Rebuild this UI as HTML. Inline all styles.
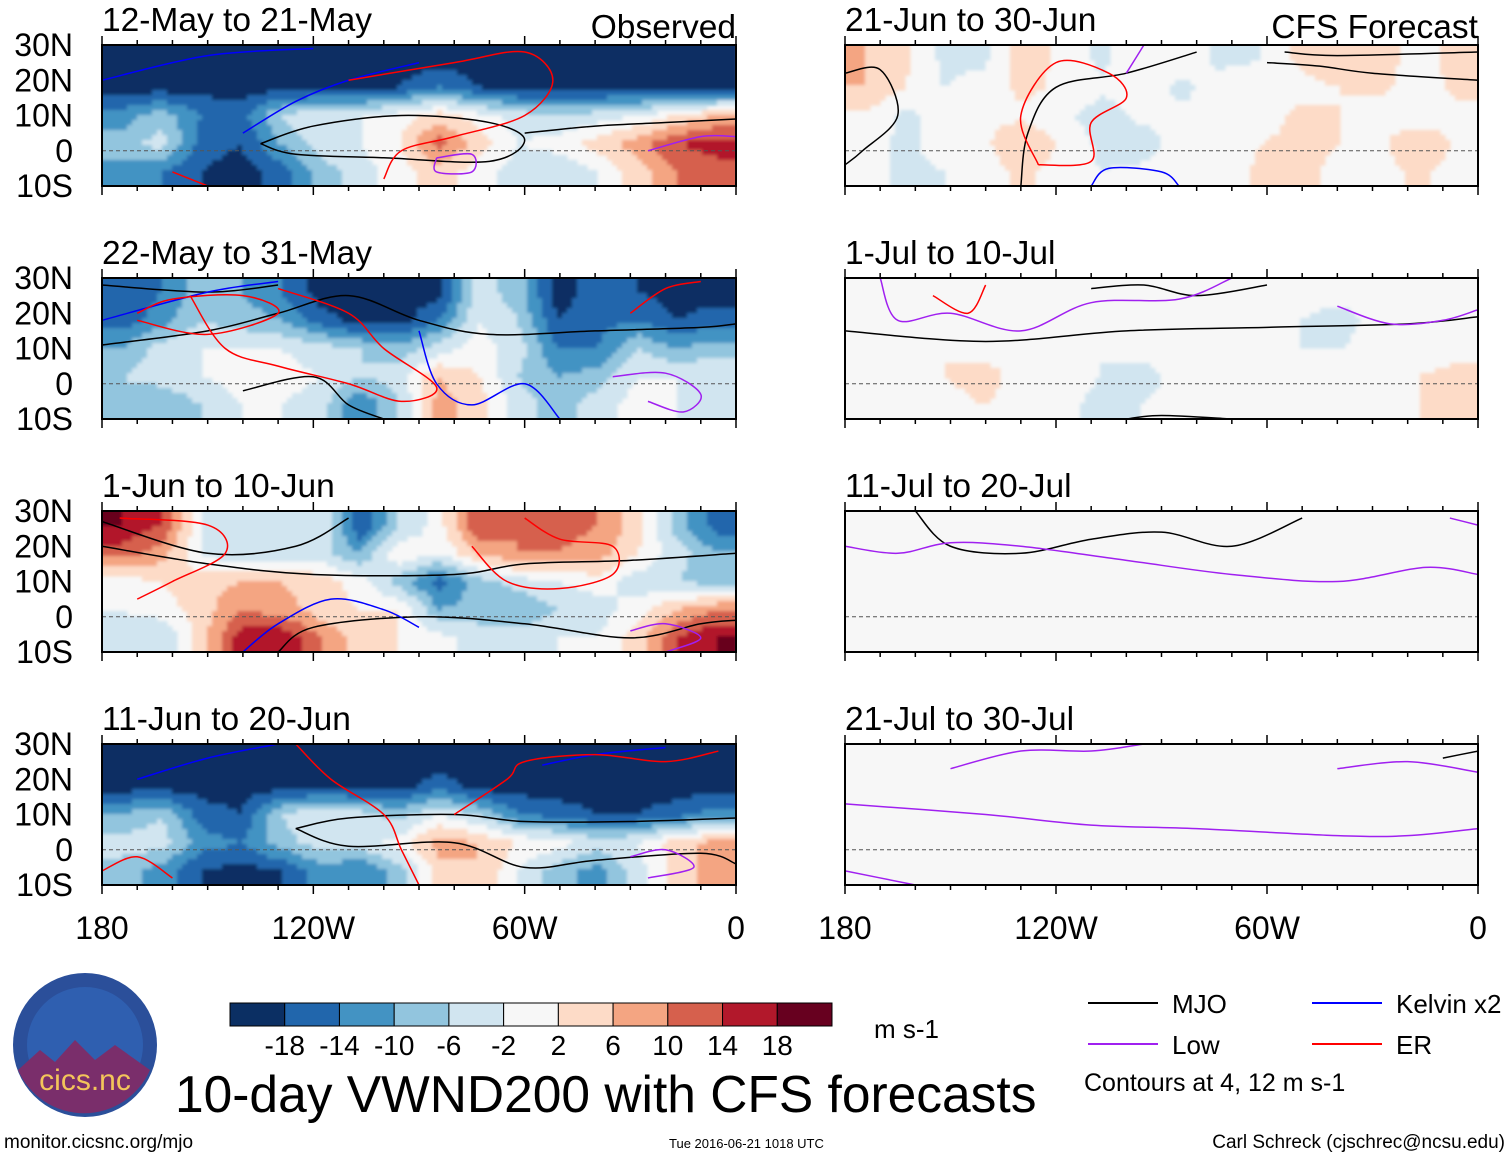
<!DOCTYPE html>
<html><head><meta charset="utf-8">
<style>
body{margin:0;background:#fff;width:1510px;height:1158px;overflow:hidden;font-family:"Liberation Sans",sans-serif;}
svg{position:absolute;left:0;top:0}
</style></head>
<body>
<svg id="chart" width="1510" height="1158" xmlns="http://www.w3.org/2000/svg">
<defs>
<filter id="blur" x="-5%" y="-10%" width="110%" height="120%"><feGaussianBlur stdDeviation="1.5"/></filter>
</defs>
<g id="panels"></g>
<g id="legend"></g>
<text x="175" y="1112" font-size="51.5">10-day VWND200 with CFS forecasts</text>
<text x="4" y="1148" font-size="19">monitor.cicsnc.org/mjo</text>
<text x="669" y="1148" font-size="13">Tue 2016-06-21 1018 UTC</text>
<text x="1505" y="1148" font-size="19" text-anchor="end">Carl Schreck (cjschrec@ncsu.edu)</text>
<g>
<circle cx="85" cy="1045" r="72" fill="#2b4f9a"/>
<circle cx="85" cy="1045" r="58" fill="#2f5fb0"/>
<path d="M18 1070 L40 1050 L55 1062 L75 1040 L95 1060 L115 1045 L150 1070 A72 72 0 0 1 18 1070Z" fill="#7a2e6b"/>
<text x="85" y="1090" font-size="30" fill="#f3c55a" text-anchor="middle">cics.nc</text>
</g>
<text x="874" y="1038" font-size="26">m s-1</text>
</svg>
<script>
// ---- data: v-wind anomalies (m/s), rows lat 26N,18N,10N,2N,6S ; 16 cols from 180 to 0
const obs1=[[-20,-20,-20,-20,-20,-20,-20,-20,-20,-20,-20,-20,-20,-20,-20,-20],[-20,-20,-20,-20,-20,-20,-20,-18,-14,-18,-20,-20,-20,-20,-20,-20],[-12,-8,-14,-16,-6,-2,-2,0,4,0,-4,-6,-4,-2,2,6],[-8,-4,-16,-18,-10,-4,-2,2,12,4,-2,0,4,8,14,16],[-12,-14,-18,-20,-16,-8,-4,0,4,0,-4,-6,-2,4,10,12]];
const obs2=[[-18,-14,-8,-10,-14,-20,-20,-20,-20,-4,-8,-20,-16,-18,-20,-20],[-16,-12,-6,-8,-10,-16,-20,-20,-14,-2,-6,-18,-16,-14,-18,-16],[-10,-4,-2,-2,-2,-4,-6,-8,-4,0,-4,-14,-14,-6,-10,-8],[-6,-4,-2,0,0,-2,-6,-4,6,2,-6,-10,-8,-2,-2,-2],[-8,-10,-6,-2,-2,-4,-14,-6,8,4,-4,-8,-4,0,-2,-4]];
const obs3=[[18,14,-2,-4,-6,-2,-18,-6,0,14,10,12,10,4,-8,-16],[12,8,-2,-6,-4,-4,-10,2,-2,6,10,10,8,2,-4,-10],[0,2,4,6,6,4,0,-8,-16,-8,-4,-2,0,-4,-6,-8],[-2,0,4,10,8,4,2,2,-10,-8,-10,-6,-4,0,6,10],[-4,-6,4,16,18,10,4,2,0,-4,-4,-2,-2,4,14,18]];
const obs4=[[-20,-20,-20,-20,-20,-20,-20,-20,-20,-20,-20,-20,-20,-20,-20,-20],[-20,-20,-20,-20,-20,-20,-20,-20,-16,-20,-20,-20,-20,-20,-20,-20],[-10,-6,-16,-18,-6,-2,-4,-8,-2,-6,-14,-16,-18,-18,-16,-12],[-4,-4,-12,-14,-8,-4,-4,0,8,6,2,0,-4,-2,4,8],[-8,-12,-18,-20,-18,-12,-14,-8,4,6,-2,-8,-12,-4,4,8]];
const fc1=[[6,3,-3,-3,4,1,-3,2,0,-3,-2,3,6,3,1,3],[6,2,-2,0,3,1,-1,0,-3,0,0,0,2,3,0,3],[1,-3,0,1,1,-1,-4,-1,-1,-2,0,3,2,0,-1,1],[0,-3,0,1,6,1,-3,-4,0,-2,2,3,2,1,6,1],[0,-3,-2,0,3,0,-2,-1,0,-1,3,3,1,0,3,0]];
const fc2=[[0,0,2,-2,0,0,0,0,0,0,0,0,0,-2,0,0],[0,0,0,-2,2,0,0,0,0,0,0,-2,-4,0,2,-2],[0,0,2,0,0,0,-2,0,0,0,0,-2,-2,0,-2,0],[0,0,2,4,0,0,-2,-4,0,2,0,-2,-2,0,2,4],[0,0,0,2,0,0,-4,-2,0,0,0,-2,0,0,2,4]];
const fc3=[[0,2,0,0,0,0,0,0,0,0,0,0,0,-2,0,-2],[0,0,0,0,0,0,0,0,0,0,0,0,0,0,0,-2],[0,0,2,0,0,0,0,0,0,0,0,0,0,0,0,0],[0,2,0,0,0,-2,-2,0,0,0,0,0,0,0,0,-2],[0,2,0,2,0,0,-2,0,0,0,0,0,0,0,-2,-2]];
const fc4=[[0,2,0,0,0,0,0,0,0,0,0,0,0,0,0,0],[0,0,0,0,0,0,0,0,0,0,0,0,0,0,0,0],[0,0,0,0,0,0,0,0,0,0,0,0,0,0,0,0],[0,0,0,0,0,0,0,0,0,0,0,0,0,0,0,-2],[0,0,0,0,0,0,0,0,0,0,0,0,0,0,0,-2]];
const rowLats=[26,18,10,2,-6];
const titles=["12-May to 21-May","22-May to 31-May","1-Jun to 10-Jun","11-Jun to 20-Jun","21-Jun to 30-Jun","1-Jul to 10-Jul","11-Jul to 20-Jul","21-Jul to 30-Jul"];
const latTicks=[30,20,10,0,-10];
const latLabels=["30N","20N","10N","0","10S"];
const lonTicks=[180,120,60,0];
const lonLabels=["180","120W","60W","0"];
const cbLevels=["-18","-14","-10","-6","-2","2","6","10","14","18"];
const cbColors=["#0b2f63","#2166ac","#4393c3","#92c5de","#d1e5f0","#f7f7f7","#fddbc7","#f4a582","#d6604d","#b2182b","#67001f"];
// contours: [color, [[lonW,lat],...]]
const contours=[
 [["#000",[[135,2],[120,7],[95,10],[70,8],[60,3],[70,-3],[100,-2],[125,-1],[135,2]]],["#000",[[60,5],[40,7],[20,8],[0,9]]],["#00f",[[180,20],[150,27],[120,29]]],["#00f",[[140,5],[125,14],[110,20],[90,25]]],["#f00",[[110,20],[80,25],[60,28],[52,20],[60,10],[80,4],[95,0],[100,-8]]],["#f00",[[160,-6],[150,-10]]],["#a020f0",[[85,-2],[75,-1],[75,-6],[85,-6],[85,-2]]],["#a020f0",[[25,0],[10,4],[0,4]]]],
 [["#000",[[180,11],[150,15],[130,20],[110,25],[90,18],[70,14],[40,15],[10,16],[0,17]]],["#000",[[180,28],[150,26],[130,28]]],["#000",[[140,-2],[120,2],[110,-6],[100,-10]]],["#00f",[[180,18],[150,26],[130,29]]],["#00f",[[90,15],[85,0],[75,-6],[60,0],[50,-10]]],["#f00",[[170,20],[160,24],[140,25],[130,20],[150,14],[170,18]]],["#f00",[[155,25],[145,10],[130,5],[110,0],[95,-5],[85,-1],[100,10],[110,20],[130,27]]],["#f00",[[30,20],[20,27],[10,29]]],["#a020f0",[[25,-5],[15,-8],[10,-3],[20,3],[35,2]]]],
 [["#000",[[180,20],[150,15],[120,12],[80,12],[60,15],[30,16],[0,18]]],["#000",[[180,27],[150,18],[125,20],[110,28]]],["#000",[[130,-10],[120,-3],[90,0],[60,-2],[30,-6],[10,-2],[0,-1]]],["#00f",[[140,-10],[130,-2],[115,5],[100,2],[90,-3]]],["#f00",[[175,28],[150,26],[145,18],[160,10],[170,5]]],["#f00",[[60,28],[50,22],[35,20],[35,12],[50,8],[65,10],[75,20]]],["#a020f0",[[30,-4],[20,-2],[10,-6],[20,-10]]]],
 [["#000",[[125,6],[110,9],[80,10],[60,8],[30,8],[0,9]]],["#000",[[125,6],[110,1],[80,2],[60,-5],[40,-3],[10,-1],[0,-4]]],["#00f",[[170,20],[150,26],[130,30]]],["#00f",[[55,24],[40,27],[20,29]]],["#f00",[[125,30],[115,20],[100,10],[95,0],[90,-10]]],["#f00",[[80,10],[65,20],[60,25],[40,27],[20,25],[5,28]]],["#f00",[[180,-6],[170,-2],[160,-8]]],["#a020f0",[[30,-2],[20,0],[12,-5],[25,-8]]]],
 [["#000",[[180,22],[170,23],[165,10],[175,0],[180,-4]]],["#000",[[130,-10],[128,5],[120,18],[100,22],[80,28]]],["#000",[[60,25],[45,24],[30,22],[0,20]]],["#000",[[55,28],[40,27],[0,28]]],["#f00",[[125,-4],[130,10],[120,25],[105,22],[100,15],[110,8],[110,-3],[125,-4]]],["#00f",[[110,-10],[105,-5],[90,-6],[85,-10]]],["#a020f0",[[100,22],[95,30]]]],
 [["#000",[[180,15],[140,12],[100,15],[60,16],[20,17],[0,19]]],["#000",[[110,27],[95,28],[80,25],[60,28]]],["#a020f0",[[170,30],[165,18],[150,20],[130,15],[110,23],[85,24],[70,30]]],["#a020f0",[[40,22],[25,17],[10,18],[0,21]]],["#f00",[[155,25],[145,20],[140,28]]],["#000",[[100,-10],[90,-9],[70,-10]]]],
 [["#000",[[160,30],[150,20],[130,18],[110,22],[90,24],[70,20],[50,28]]],["#a020f0",[[180,20],[165,18],[150,21],[130,20],[100,16],[70,12],[40,10],[15,14],[0,12]]],["#a020f0",[[8,28],[0,26]]]],
 [["#a020f0",[[180,13],[140,10],[110,7],[80,6],[40,4],[20,4],[0,6]]],["#a020f0",[[150,23],[130,28],[110,28],[95,30]]],["#a020f0",[[40,23],[20,25],[0,22]]],["#a020f0",[[180,-6],[160,-10]]],["#000",[[10,26],[0,28]]]]
];
const fields=[obs1,obs2,obs3,obs4,fc1,fc2,fc3,fc4];
const NS="http://www.w3.org/2000/svg";
function mk(tag,attrs,parent){const e=document.createElementNS(NS,tag);for(const k in attrs)e.setAttribute(k,attrs[k]);parent.appendChild(e);return e;}
function colorFor(v){const lv=[-18,-14,-10,-6,-2,2,6,10,14,18];let i=0;while(i<lv.length&&v>=lv[i])i++;return cbColors[i];}
function sample(f,lonW,lat){
 let cx=(180-lonW)/11.25-0.5, ry=(26-lat)/8;
 cx=Math.max(0,Math.min(15,cx)); ry=Math.max(0,Math.min(4,ry));
 const c0=Math.min(14,Math.floor(cx)),r0=Math.min(3,Math.floor(ry));
 const tx=cx-c0,ty=ry-r0;
 const a=f[r0][c0]*(1-tx)+f[r0][c0+1]*tx, b=f[r0+1][c0]*(1-tx)+f[r0+1][c0+1]*tx;
 return a*(1-ty)+b*ty;
}
function smoothPath(pts){
 let d='M'+pts[0][0]+','+pts[0][1];
 for(let i=0;i<pts.length-1;i++){
  const p0=pts[Math.max(0,i-1)],p1=pts[i],p2=pts[i+1],p3=pts[Math.min(pts.length-1,i+2)];
  const c1=[p1[0]+(p2[0]-p0[0])/6,p1[1]+(p2[1]-p0[1])/6],c2=[p2[0]-(p3[0]-p1[0])/6,p2[1]-(p3[1]-p1[1])/6];
  d+=' C'+c1.join(',')+' '+c2.join(',')+' '+p2.join(',');
 }
 return d;
}
const tops=[45,278,511,744],H=141;
const root=document.getElementById('panels');
fields.forEach((f,p)=>{
 const col=p<4?0:1,row=p%4;
 const x0=col?845:102,W=col?633:634,top=tops[row];
 const xs=lonW=>x0+(180-lonW)/180*W;
 const ys=lat=>top+(30-lat)/40*H;
 const g=mk('g',{},root);
 
 
 const cid='clip'+p;
 const cp=mk('clipPath',{id:cid},g);mk('rect',{x:x0,y:top,width:W,height:H},cp);
 const fg=mk('g',{'clip-path':'url(#'+cid+')'},g);
 mk('rect',{x:x0,y:top,width:W,height:H,fill:'#f7f7f7'},fg);
 const bg=mk('g',{filter:'url(#blur)'},fg);
 const step=5;
 for(let py=top-step;py<top+H+step;py+=step){
  const lat=30-(py+step/2-top)/H*40;
  let runStart=x0-step,runCol=null;
  for(let px=x0-step;px<=x0+W+step;px+=step){
   const lonW=180-(px+step/2-x0)/W*180;
   const c=px>x0+W?null:colorFor(sample(f,lonW,lat));
   if(c!==runCol){
    if(runCol&&runCol!=='#f7f7f7'){const r=mk('rect',{x:runStart,y:py,width:px-runStart+0.5,height:step+0.5,fill:runCol},bg);
     
     }
    runStart=px;runCol=c;
   }
  }
 }
 mk('line',{x1:x0,x2:x0+W,y1:ys(0),y2:ys(0),stroke:'#555','stroke-dasharray':'4,3','stroke-width':1},fg);
 contours[p].forEach(([c,pts])=>{
  const pl=mk('path',{d:smoothPath(pts.map(q=>[xs(q[0]),ys(q[1])])),fill:'none',stroke:c,'stroke-width':1.5,'stroke-linejoin':'round'},fg);
  
  
 });
 mk('rect',{x:x0,y:top,width:W,height:H,fill:'none',stroke:'#000','stroke-width':2},g);
 for(let l=180;l>=0;l-=10){const x=xs(l),big=l%60==0?9:5;
  mk('line',{x1:x,x2:x,y1:top,y2:top-big,stroke:'#000','stroke-width':1.5},g);
  mk('line',{x1:x,x2:x,y1:top+H,y2:top+H+big,stroke:'#000','stroke-width':1.5},g);}
 const t=mk('text',{x:x0,y:top-14,'font-size':33.5},g);t.textContent=titles[p];
 
 
 if(row==0){const s=mk('text',{x:x0+W,y:top-7,'font-size':33.5,'text-anchor':'end'},g);s.textContent=col?'CFS Forecast':'Observed';
  
  }
 if(col==0){latTicks.forEach((lt,i)=>{const tx=mk('text',{x:73,y:ys(lt)+11,'font-size':32,'text-anchor':'end'},g);tx.textContent=latLabels[i];
  
  });}
 if(row==3){lonTicks.forEach((ln,i)=>{const tx=mk('text',{x:xs(ln),y:939,'font-size':32,'text-anchor':'middle'},g);tx.textContent=lonLabels[i];
  
  });}
});
// colorbar
const lg=document.getElementById('legend');
const cbx=230,cbw=602/11;
cbColors.forEach((c,i)=>{const r=mk('rect',{x:cbx+i*cbw,y:1003,width:cbw,height:23,fill:c,stroke:'#000','stroke-width':1},lg);
 
 });
cbLevels.forEach((l,i)=>{const t=mk('text',{x:cbx+(i+1)*cbw,y:1055,'font-size':28,'text-anchor':'middle'},lg);t.textContent=l;
 
 });
const legItems=[["MJO","#000",1088,1003],["Kelvin x2","#00f",1312,1003],["Low","#a020f0",1088,1044],["ER","#f00",1312,1044]];
legItems.forEach(([n,c,x,y])=>{mk('line',{x1:x,x2:x+70,y1:y,y2:y,stroke:c,'stroke-width':2},lg);
 const t=mk('text',{x:x+84,y:y+10,'font-size':26},lg);t.textContent=n;
 
 });
const ct=mk('text',{x:1084,y:1091,'font-size':25},lg);ct.textContent='Contours at 4, 12 m s-1';


</script>
</body></html>
